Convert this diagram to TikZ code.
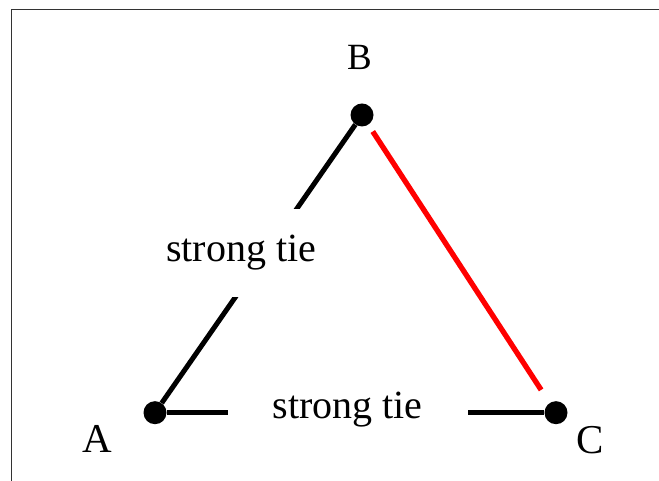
\documentclass[tikz,border=0pt]{standalone}
\usepackage{fontspec}
\setmainfont{Liberation Serif}
\usetikzlibrary{positioning}

\begin{document}
\begin{tikzpicture}[
  x=1pt,y=1pt,
  every node/.style={font=\fontsize{40}{48}\selectfont},
  dot/.style  ={circle,fill=black,inner sep=0pt,minimum size=23pt},
  letter/.style={inner sep=0pt},
  tie/.style  ={line width=5pt,black},
  weaktie/.style={line width=5.3pt,red,shorten <=8pt,shorten >=15.5pt},
  tielab/.style={fill=white,inner xsep=2pt,inner ysep=2pt},
  frame/.style={line width=1.8pt,black!80},
]
\useasboundingbox (0,0) rectangle (659,481);
\draw[frame] (11.5,0) -- (11.5,471.5) -- (659,471.5);

\node[dot] at (155,68.3) (A) {};
\node[dot] at (362,366)  (B) {};
\node[dot] at (556,68.3) (C) {};

\node[letter,font=\fontsize{41}{48}\selectfont] at (97.5,42)  (lblA) {A};
\node[letter,font=\fontsize{37}{44}\selectfont] at (359.5,424) (lblB) {B};
\node[letter,font=\fontsize{41}{48}\selectfont] at (590,41)   (lblC) {C};

\draw[tie] (A) -- node[tielab,pos=0.54,xshift=-25pt,inner ysep=26.5pt]{strong tie} (B);
\draw[tie] (A) -- node[tielab,pos=0.479,yshift=2.7pt,inner xsep=45pt]{strong tie} (C);
\draw[weaktie] (B) -- (C);
\end{tikzpicture}
\end{document}
